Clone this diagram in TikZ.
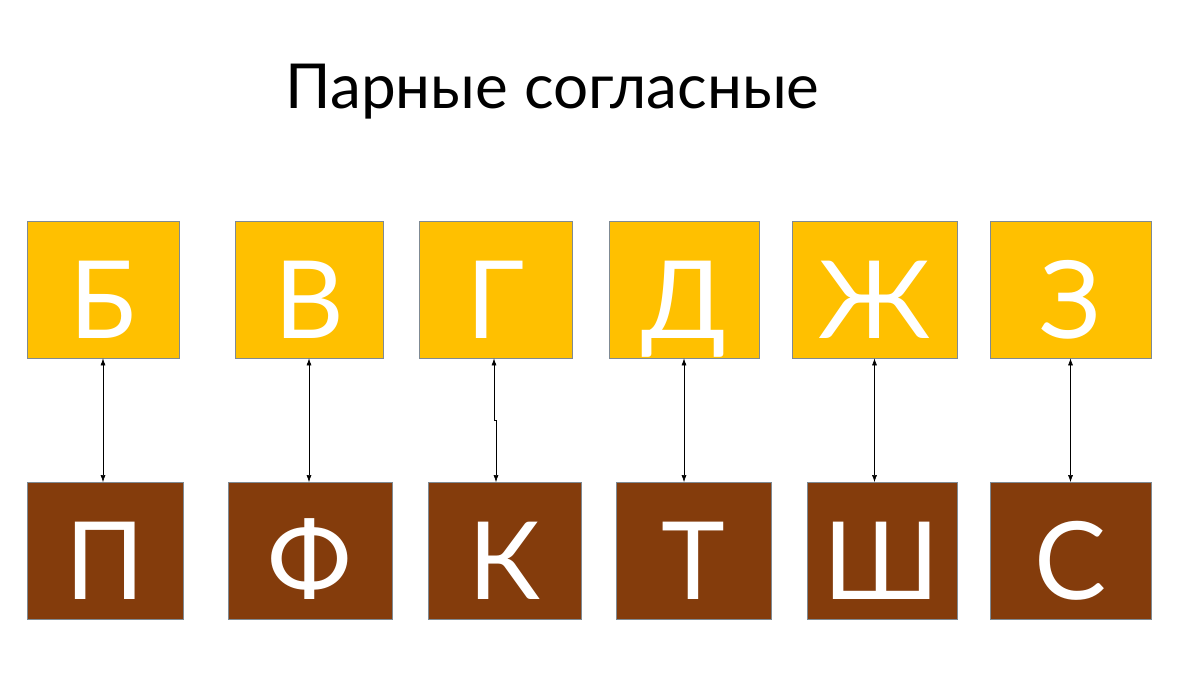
\documentclass[tikz,border=0pt]{standalone}
\usepackage{fontspec}
\setmainfont{Lato}
\usetikzlibrary{arrows.meta}
\definecolor{voiced}{HTML}{FFC000}
\definecolor{voiceless}{HTML}{843C0C}
\definecolor{edge}{HTML}{7F8A93}
\begin{document}
\begin{tikzpicture}[x=1pt, y=-1pt,
  every node/.style = {shape=rectangle, inner sep=0pt},
  letterbox/.style = {draw=edge, line width=0.8pt, minimum height=137pt,
    text=white, font=\fontsize{108}{108}\selectfont,
    text height=97pt, text depth=0pt},
  pair/.style = {{Latex[length=7pt,width=5pt]}-{Latex[length=7pt,width=5pt]}, line width=0.6pt}]
  \useasboundingbox (0,0) rectangle (1200,675);
  \node[anchor=base, font=\fontsize{62}{62}\selectfont] (title) at (552.5,108) {Парные согласные};
  % voiced row
  \foreach \name/\x/\w/\letter in {b/103/152/Б, v/309/148/В, g/495.5/153/Г,
      d/684/150/Д, zh/874.5/165/Ж, z/1070.5/161/З}
    \node[letterbox, fill=voiced, minimum width=\w pt] (\name) at (\x,289.5) {\letter};
  % voiceless row
  \foreach \name/\x/\w/\letter in {p/105/156/П, f/310/164/Ф, k/504.5/153/К,
      t/693.5/155/Т, sh/882/150/Ш, s/1070.5/161/С}
    \node[letterbox, fill=voiceless, minimum width=\w pt] (\name) at (\x,551) {\letter};
  \foreach \a/\b in {b/p, v/f, d/t, zh/sh, z/s}
    \draw[pair] (\a.south) -- (\a.south |- \b.north);
  \coordinate (gk) at (496,420);
  \draw[pair] ([xshift=-1.5pt]g.south) |- (gk) -- (gk |- k.north);
\end{tikzpicture}
\end{document}
